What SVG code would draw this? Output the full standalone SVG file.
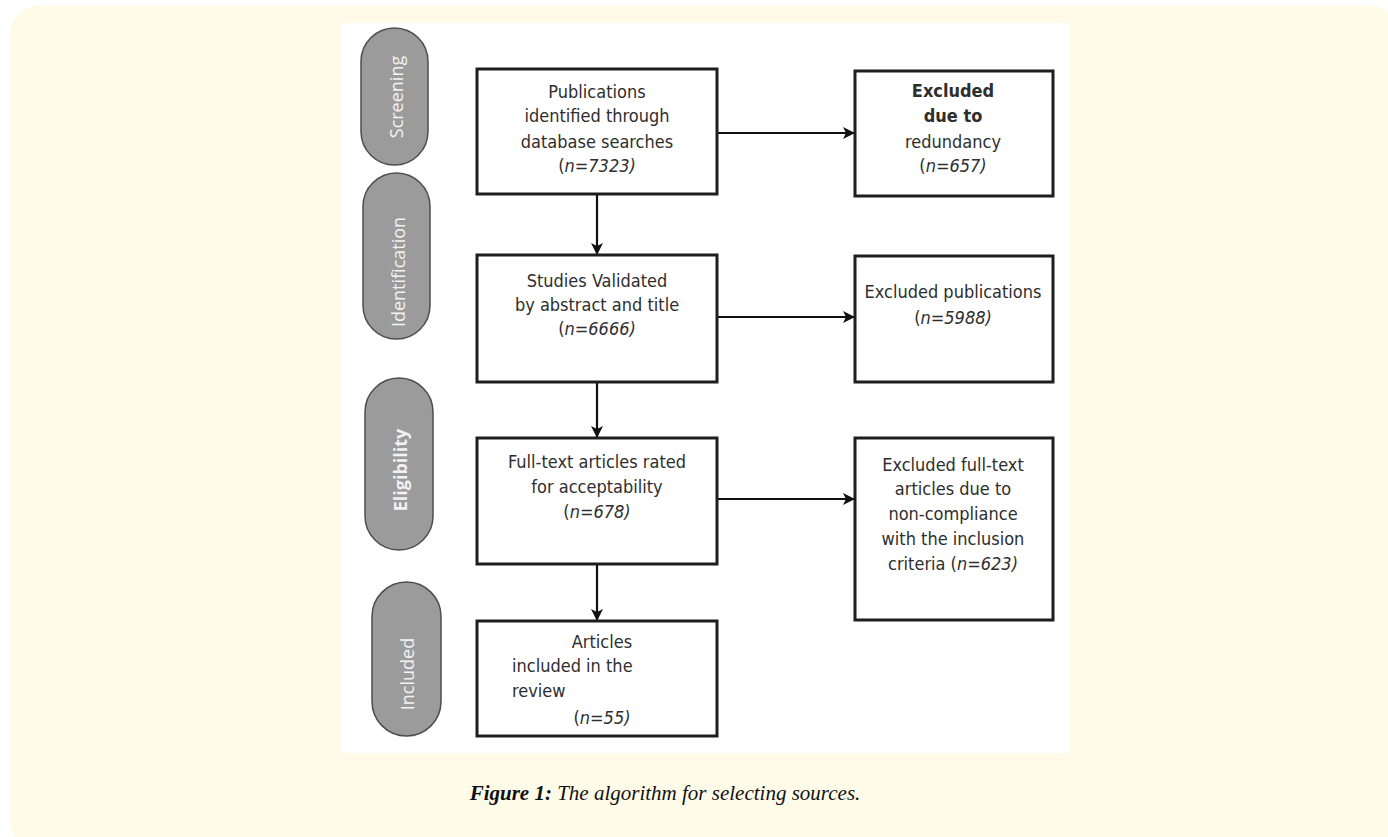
<svg xmlns="http://www.w3.org/2000/svg" width="1388" height="837" viewBox="0 0 1388 837">
<defs>
<style>
.box{fill:#fff;stroke:#1e1e1e;stroke-width:3}
.pill{fill:#9b9b9b;stroke:#4d4d4d;stroke-width:1.5}
.pt{font-family:"Open Sans","DejaVu Sans",sans-serif;font-size:18px;fill:#f2f2f2;text-anchor:middle;dominant-baseline:central}
.t{font-family:"DejaVu Sans Condensed","DejaVu Sans",sans-serif;font-size:18px;fill:#2e2e2e;text-anchor:middle}
.tl{font-family:"DejaVu Sans Condensed","DejaVu Sans",sans-serif;font-size:18px;fill:#2e2e2e}
.b{font-weight:bold}
.i{font-style:italic}
.con{stroke:#111;stroke-width:2.2;fill:none;marker-end:url(#ah)}
.cap{font-family:"Liberation Serif","DejaVu Serif",serif;font-size:21px;font-style:italic;fill:#111;text-anchor:middle}
</style>
<marker id="ah" viewBox="0 0 12 12" refX="12" refY="6" markerWidth="12" markerHeight="12" markerUnits="userSpaceOnUse" orient="auto">
<path d="M0,0 L12,6 L0,12 L3,6 Z" fill="#111"/>
</marker>
</defs>
<rect x="10" y="5" width="1390" height="845" rx="30" fill="#fffbe9"/>
<rect x="341" y="23" width="728" height="730" fill="#fff"/>

<g id="pill-screening">
<rect class="pill" x="361" y="28" width="67" height="137" rx="33.5"/>
<text class="pt" transform="translate(396,97) rotate(-90)">Screening</text>
</g>
<g id="pill-identification">
<rect class="pill" x="363" y="173" width="67" height="166" rx="33.5"/>
<text class="pt" transform="translate(398,272) rotate(-90)">Identification</text>
</g>
<g id="pill-eligibility">
<rect class="pill" x="365" y="378" width="68" height="172" rx="34"/>
<text class="pt b" transform="translate(400,470) rotate(-90)">Eligibility</text>
</g>
<g id="pill-included">
<rect class="pill" x="372" y="582" width="69" height="154" rx="34.5"/>
<text class="pt" transform="translate(407,674) rotate(-90)">Included</text>
</g>

<g id="connectors">
<line class="con" x1="597" y1="194" x2="597" y2="255"/>
<line class="con" x1="597" y1="382" x2="597" y2="438"/>
<line class="con" x1="597" y1="564" x2="597" y2="621"/>
<line class="con" x1="717" y1="133" x2="855" y2="133"/>
<line class="con" x1="717" y1="317" x2="855" y2="317"/>
<line class="con" x1="717" y1="499" x2="855" y2="499"/>
</g>

<g id="n1">
<rect class="box" x="477" y="69" width="240" height="125"/>
<text class="t" x="597" y="98" font-size="19.5">Publications</text>
<text class="t" x="597" y="122">identified through</text>
<text class="t" x="597" y="148">database  searches</text>
<text class="t" x="597" y="172">(<tspan class="i">n=7323)</tspan></text>
</g>
<g id="n2">
<rect class="box" x="855" y="71" width="198" height="125"/>
<text class="t b" x="953" y="97" font-size="19">Excluded</text>
<text class="t b" x="953" y="122" font-size="19">due to</text>
<text class="t" x="953" y="148">redundancy</text>
<text class="t" x="953" y="172">(<tspan class="i">n=657)</tspan></text>
</g>
<g id="n3">
<rect class="box" x="477" y="255" width="240" height="127"/>
<text class="t" x="597" y="287">Studies Validated</text>
<text class="t" x="597" y="311">by abstract  and  title</text>
<text class="t" x="597" y="335">(<tspan class="i">n=6666)</tspan></text>
</g>
<g id="n4">
<rect class="box" x="855" y="256" width="198" height="126"/>
<text class="t" x="953" y="298">Excluded publications</text>
<text class="t" x="953" y="324">(<tspan class="i">n=5988)</tspan></text>
</g>
<g id="n5">
<rect class="box" x="477" y="438" width="240" height="126"/>
<text class="t" x="597" y="468">Full-text articles rated</text>
<text class="t" x="597" y="493">for acceptability</text>
<text class="t" x="597" y="518">(<tspan class="i">n=678)</tspan></text>
</g>
<g id="n6">
<rect class="box" x="855" y="438" width="198" height="182"/>
<text class="t" x="953" y="471">Excluded full-text</text>
<text class="t" x="953" y="495">articles due to</text>
<text class="t" x="953" y="520">non-compliance</text>
<text class="t" x="953" y="545">with the inclusion</text>
<text class="t" x="953" y="570">criteria (<tspan class="i">n=623)</tspan></text>
</g>
<g id="n7">
<rect class="box" x="477" y="621" width="240" height="115"/>
<text class="t" x="602" y="648">Articles</text>
<text class="tl" x="512" y="672">included  in the</text>
<text class="tl" x="512" y="697">review</text>
<text class="t" x="602" y="724">(<tspan class="i">n=55)</tspan></text>
</g>

<text class="cap" x="665" y="800"><tspan font-weight="bold">Figure 1:</tspan> The algorithm for selecting sources.</text>
</svg>
